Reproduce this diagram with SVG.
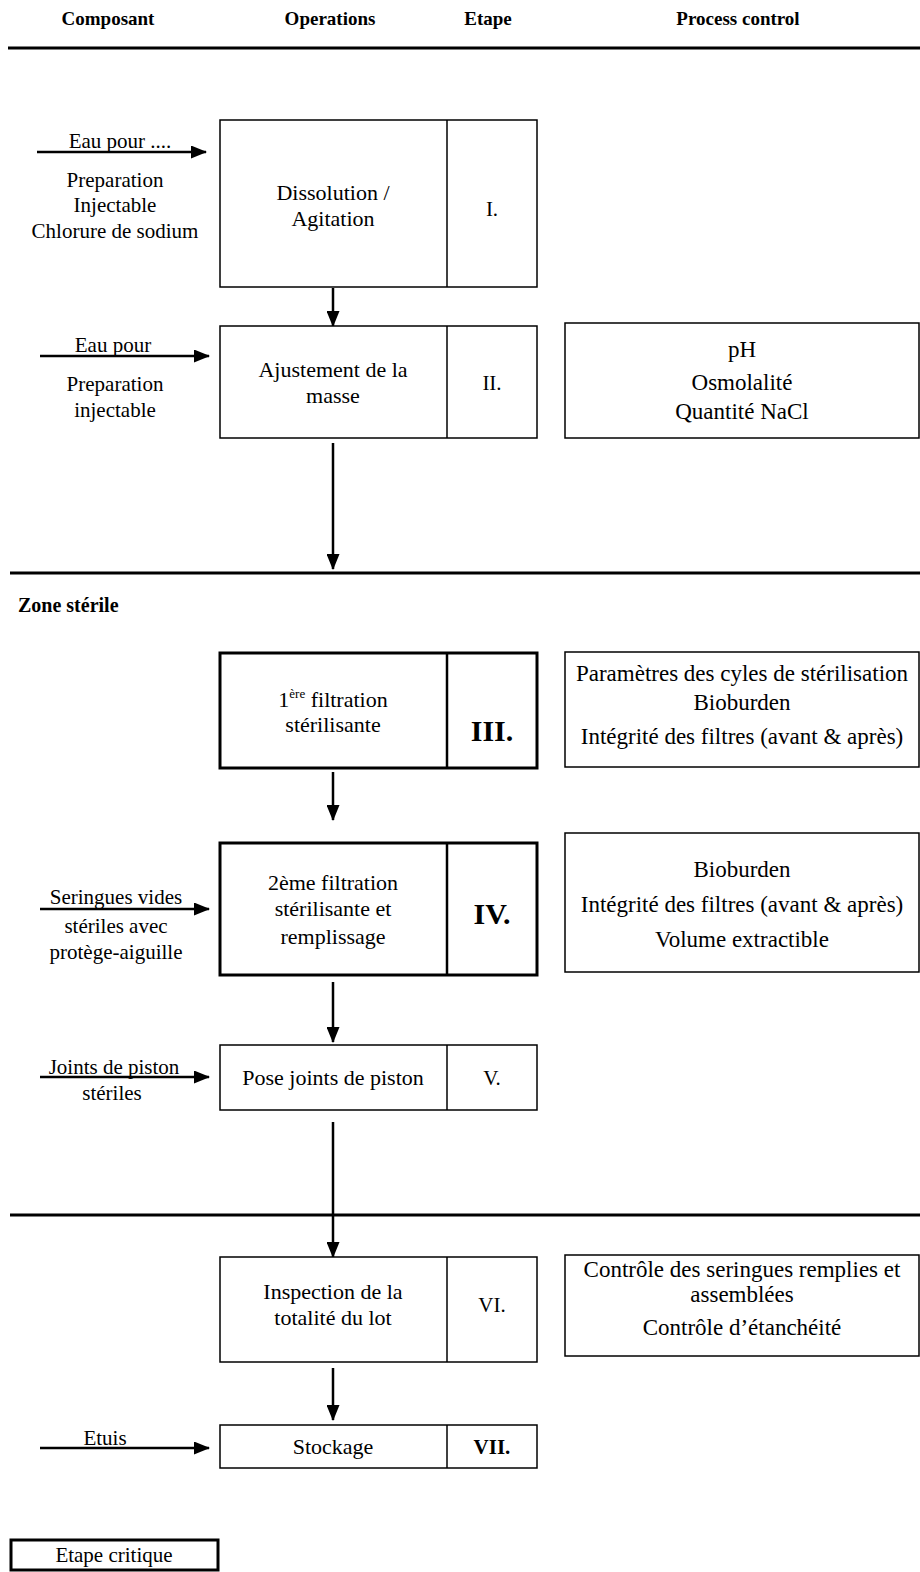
<svg xmlns="http://www.w3.org/2000/svg" width="920" height="1572" viewBox="0 0 920 1572">
<defs>
<marker id="ah" markerWidth="16" markerHeight="13" refX="15" refY="6.5" orient="auto" markerUnits="userSpaceOnUse">
<path d="M0,0 L16,6.5 L0,13 Z" fill="#000"/>
</marker>
<style>
text{font-family:"Liberation Serif","Times New Roman",serif;fill:#000;}
.h{font-size:19px;font-weight:bold;text-anchor:middle;}
.t{font-size:22px;text-anchor:middle;}
.l{font-size:21px;text-anchor:middle;}
.p{font-size:23px;text-anchor:middle;}
.n{font-size:21px;text-anchor:middle;}
.nb{font-size:30px;font-weight:bold;text-anchor:middle;}
.box{fill:#fff;stroke:#000;stroke-width:1.5;}
.crit{fill:#fff;stroke:#000;stroke-width:3;}
.div{stroke:#000;stroke-width:1.5;}
.divc{stroke:#000;stroke-width:2.5;}
.sep{stroke:#000;stroke-width:3;}
.arr{stroke:#000;stroke-width:2.5;fill:none;marker-end:url(#ah);}
</style>
</defs>
<rect width="920" height="1572" fill="#fff"/>

<g id="header">
<text class="h" x="108" y="25">Composant</text>
<text class="h" x="330" y="25">Operations</text>
<text class="h" x="488" y="25">Etape</text>
<text class="h" x="738" y="25">Process control</text>
<line class="sep" x1="8" y1="48" x2="920" y2="48" stroke-width="2.5"/>
</g>

<g id="separators">
<line class="sep" x1="10" y1="573" x2="920" y2="573"/>
<text x="18" y="612" style="font-size:20px;font-weight:bold;">Zone stérile</text>
<line class="sep" x1="10" y1="1215" x2="920" y2="1215"/>
</g>

<g id="connectors">
<line class="arr" x1="37" y1="152" x2="206" y2="152"/>
<line class="arr" x1="40" y1="356" x2="209" y2="356"/>
<line class="arr" x1="40" y1="909" x2="209" y2="909"/>
<line class="arr" x1="40" y1="1077" x2="209" y2="1077"/>
<line class="arr" x1="40" y1="1448" x2="209" y2="1448"/>
<line class="arr" x1="333" y1="288" x2="333" y2="326"/>
<line class="arr" x1="333" y1="443" x2="333" y2="569"/>
<line class="arr" x1="333" y1="772" x2="333" y2="820"/>
<line class="arr" x1="333" y1="982" x2="333" y2="1042"/>
<line class="arr" x1="333" y1="1122" x2="333" y2="1257"/>
<line class="arr" x1="333" y1="1368" x2="333" y2="1420"/>
</g>

<g id="comp1">
<text class="l" x="120" y="148">Eau pour ....</text>
<text class="l" x="115" y="187">Preparation</text>
<text class="l" x="115" y="212">Injectable</text>
<text class="l" x="115" y="238">Chlorure de sodium</text>
</g>
<g id="step1">
<rect class="box" x="220" y="120" width="317" height="167"/>
<line class="div" x1="447" y1="120" x2="447" y2="287"/>
<text class="t" x="333" y="200">Dissolution /</text>
<text class="t" x="333" y="226">Agitation</text>
<text class="n" x="492" y="216">I.</text>
</g>

<g id="comp2">
<text class="l" x="113" y="352">Eau pour</text>
<text class="l" x="115" y="391">Preparation</text>
<text class="l" x="115" y="417">injectable</text>
</g>
<g id="step2">
<rect class="box" x="220" y="326" width="317" height="112"/>
<line class="div" x1="447" y1="326" x2="447" y2="438"/>
<text class="t" x="333" y="377">Ajustement de la</text>
<text class="t" x="333" y="403">masse</text>
<text class="n" x="492" y="390">II.</text>
</g>
<g id="pc2">
<rect class="box" x="565" y="323" width="354" height="115"/>
<text class="p" x="742" y="357">pH</text>
<text class="p" x="742" y="390">Osmolalité</text>
<text class="p" x="742" y="419">Quantité NaCl</text>
</g>

<g id="step3">
<rect class="crit" x="220" y="653" width="317" height="115"/>
<line class="divc" x1="447" y1="653" x2="447" y2="768"/>
<text class="t" x="333" y="707">1<tspan font-size="13" dy="-9">ère</tspan><tspan dy="9"> filtration</tspan></text>
<text class="t" x="333" y="732">stérilisante</text>
<text class="nb" x="492" y="741">III.</text>
</g>
<g id="pc3">
<rect class="box" x="565" y="652" width="354" height="115"/>
<text class="p" x="742" y="681">Paramètres des cyles de stérilisation</text>
<text class="p" x="742" y="710">Bioburden</text>
<text class="p" x="742" y="744">Intégrité des filtres (avant &amp; après)</text>
</g>

<g id="comp4">
<text class="l" x="116" y="904">Seringues vides</text>
<text class="l" x="116" y="933">stériles avec</text>
<text class="l" x="116" y="959">protège-aiguille</text>
</g>
<g id="step4">
<rect class="crit" x="220" y="843" width="317" height="132"/>
<line class="divc" x1="447" y1="843" x2="447" y2="975"/>
<text class="t" x="333" y="890">2ème filtration</text>
<text class="t" x="333" y="916">stérilisante et</text>
<text class="t" x="333" y="944">remplissage</text>
<text class="nb" x="492" y="924">IV.</text>
</g>
<g id="pc4">
<rect class="box" x="565" y="833" width="354" height="139"/>
<text class="p" x="742" y="877">Bioburden</text>
<text class="p" x="742" y="912">Intégrité des filtres (avant &amp; après)</text>
<text class="p" x="742" y="947">Volume extractible</text>
</g>

<g id="comp5">
<text class="l" x="114" y="1074">Joints de piston</text>
<text class="l" x="112" y="1100">stériles</text>
</g>
<g id="step5">
<rect class="box" x="220" y="1045" width="317" height="65"/>
<line class="div" x1="447" y1="1045" x2="447" y2="1110"/>
<text class="t" x="333" y="1085">Pose joints de piston</text>
<text class="n" x="492" y="1085">V.</text>
</g>

<g id="step6">
<rect class="box" x="220" y="1257" width="317" height="105"/>
<line class="div" x1="447" y1="1257" x2="447" y2="1362"/>
<text class="t" x="333" y="1299">Inspection de la</text>
<text class="t" x="333" y="1325">totalité du lot</text>
<text class="n" x="492" y="1312">VI.</text>
</g>
<g id="pc6">
<rect class="box" x="565" y="1255" width="354" height="101"/>
<text class="p" x="742" y="1277">Contrôle des seringues remplies et</text>
<text class="p" x="742" y="1302">assemblées</text>
<text class="p" x="742" y="1335">Contrôle d’étanchéité</text>
</g>

<g id="comp7">
<text class="l" x="105" y="1445">Etuis</text>
</g>
<g id="step7">
<rect class="box" x="220" y="1425" width="317" height="43"/>
<line class="div" x1="447" y1="1425" x2="447" y2="1468"/>
<text class="t" x="333" y="1454">Stockage</text>
<text class="n" x="492" y="1454" font-weight="bold">VII.</text>
</g>

<g id="legend">
<rect class="crit" x="11" y="1540" width="207" height="30"/>
<text class="l" x="114" y="1562">Etape critique</text>
</g>
</svg>
